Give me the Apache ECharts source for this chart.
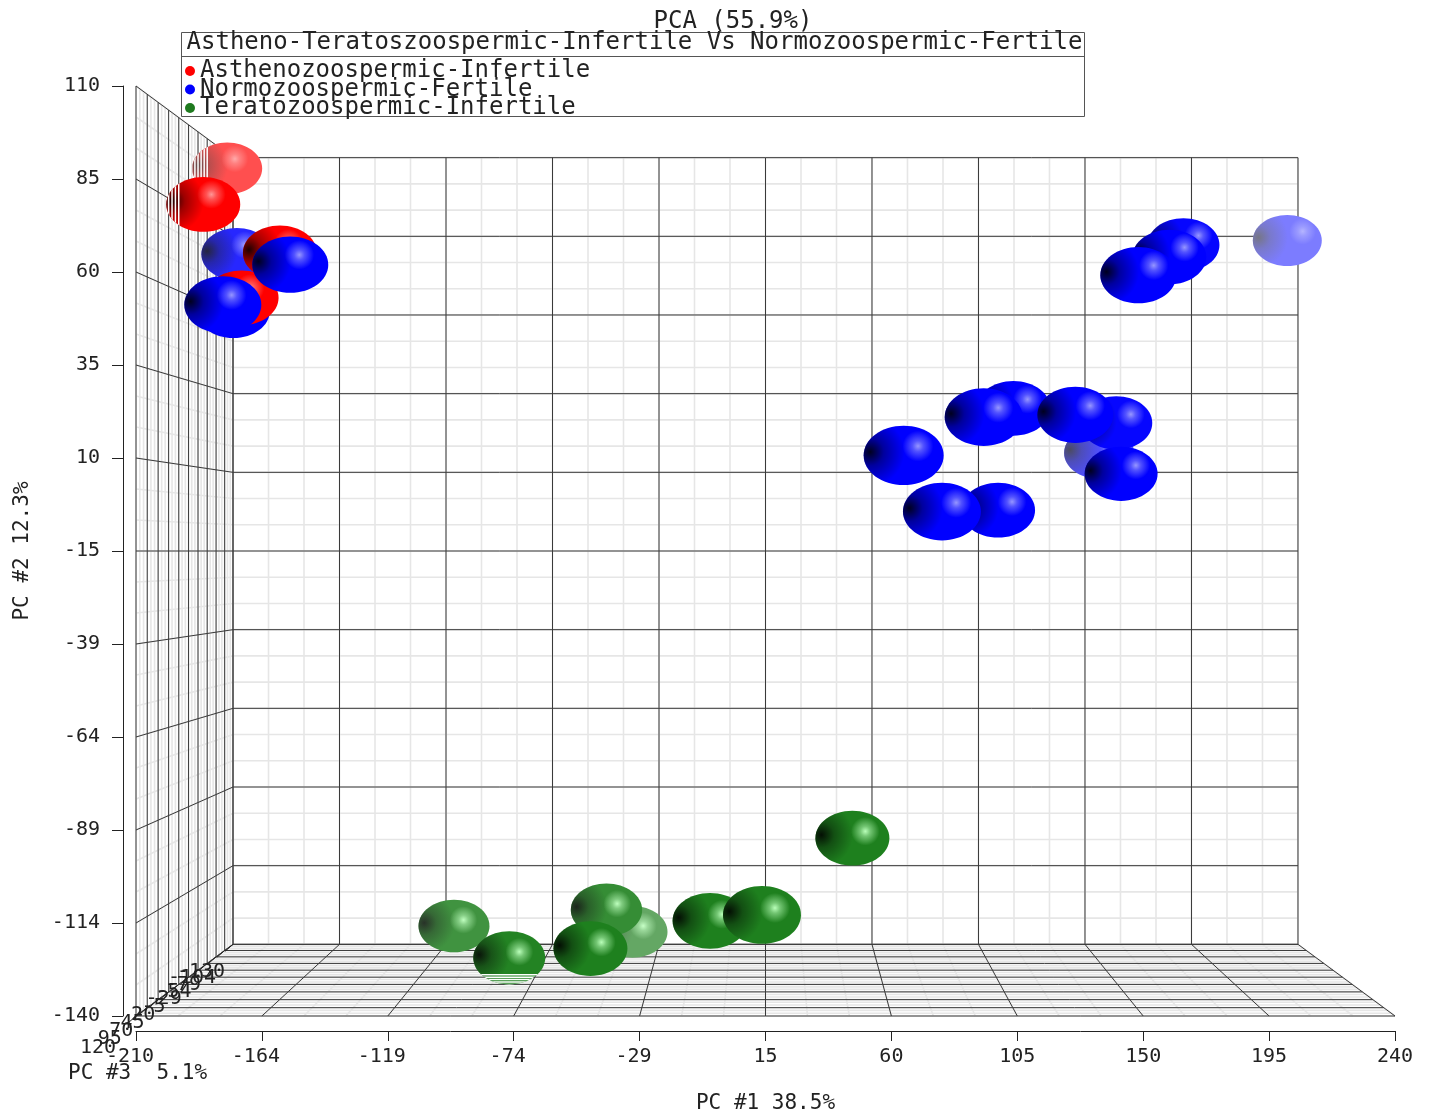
<!DOCTYPE html>
<html>
<head>
<meta charset="utf-8">
<title>PCA</title>
<script src="https://cdn.jsdelivr.net/npm/echarts@6/dist/echarts.min.js"></script>
<style>
html, body { margin: 0; padding: 0; background: #fff; }
#main { width: 1431px; height: 1115px; }
</style>
</head>
<body>
<div id="main"></div>
<script>
// PC scores, one list per axis and group
var asthenoPc1 = [-207.7, -205, -175, -190];
var asthenoPc2 = [104, 87, 72.7, 59.5];
var asthenoPc3 = [-96, -10, -10, -10];

var normoPc1 = [-200.5, -166, -189, -196, 183, 173, 157, 234, 112, 96, 133, 156, 153, 156, 65, 80.5, 106];
var normoPc2 = [76, 67, 54.6, 56.6, 77.5, 71.5, 64, 83, 27, 22.4, 24, 23.7, 15.5, 8, 11, -4, -3];
var normoPc3 = [-73, 30, 49, -30, -51, -10, 30, -119, -10, 67, 30, -51, -96, -30, 103, 67, -10];

var teratoPc1 = [-112, -88, -49.5, -40, -53.5, -6.4, 13.7, 49];
var teratoPc2 = [-130, -138, -124.5, -133.5, -132, -122.4, -116.6, -99.5];
var teratoPc3 = [-73, -51, -65, -96, -10, 10, 67, -10];

// axis ticks
var xTickValues = [-210, -165, -120, -75, -30, 15, 60, 105, 150, 195, 240];
var xTickLabels = ['-210', '-164', '-119', '-74', '-29', '15', '60', '105', '150', '195', '240'];
var yTickValues = [-140, -115, -90, -65, -40, -15, 10, 35, 60, 85, 110];
var yTickLabels = ['-140', '-114', '-89', '-64', '-39', '-15', '10', '35', '60', '85', '110'];
var zTickValues = [120, 95, 70, 45, 20, -5, -30, -55, -80, -105, -130];
var zTickLabels = ['120', '95', '70', '45', '20', '-5', '-29', '-54', '-79', '-104', '-130'];

var FONT = '"DejaVu Sans Mono", monospace';
var X_MIN = -210, X_MAX = 240, Y_MIN = -140, Y_MAX = 110, Z_FRONT = 120, Z_BACK = -130;
var X_MID = 15, Y_MID = -15;
// back plane is 0.8459 of the front plane
var PERSPECTIVE = 1 / 0.8459 - 1;
var SPHERE_RX = 14.47, SPHERE_RY = 8.06;
var PIERCE_MIN = 6;

function depthOf(pc3) {
	return (Z_FRONT - pc3) / (Z_FRONT - Z_BACK);
}
function shrink(pc3) {
	return 1 / (1 + PERSPECTIVE * depthOf(pc3));
}
// 3d to the front plane's data coordinates
function project(pc1, pc2, pc3) {
	var s = shrink(pc3);
	return [X_MID + (pc1 - X_MID) * s, Y_MID + (pc2 - Y_MID) * s];
}
function zip(a, b, c) {
	return a.map(function (v, i) { return [v, b[i], c[i]]; });
}

// walls and floor
function gridSegments(major) {
	var segs = [];
	var cells = major ? 1 : 3;
	function add(p, q) {
		var a = project(p[0], p[1], p[2]), b = project(q[0], q[1], q[2]);
		segs.push([a[0], a[1], b[0], b[1]]);
	}
	for (var i = 0; i <= 10 * cells; i++) {
		var v = X_MIN + 45 / cells * i;
		add([v, Y_MIN, Z_BACK], [v, Y_MAX, Z_BACK]);
		add([v, Y_MIN, Z_BACK], [v, Y_MIN, Z_FRONT]);
		var h = Y_MIN + 25 / cells * i;
		add([X_MIN, h, Z_BACK], [X_MAX, h, Z_BACK]);
		add([X_MIN, h, Z_BACK], [X_MIN, h, Z_FRONT]);
		var d = Z_FRONT - 25 / cells * i;
		add([X_MIN, Y_MIN, d], [X_MIN, Y_MAX, d]);
		add([X_MIN, Y_MIN, d], [X_MAX, Y_MIN, d]);
	}
	return segs;
}

function lineSeries(name, segs, color, width, z2) {
	return {
		name: name,
		type: 'custom',
		silent: true,
		data: segs,
		encode: { x: [0, 2], y: [1, 3] },
		renderItem: function (params, api) {
			var a = api.coord([api.value(0), api.value(1)]);
			var b = api.coord([api.value(2), api.value(3)]);
			return {
				type: 'line',
				z2: z2,
				shape: { x1: a[0], y1: a[1], x2: b[0], y2: b[1] },
				style: { stroke: color, lineWidth: width }
			};
		}
	};
}

function mix(rgb, fog) {
	return 'rgb(' + rgb.map(function (c) {
		return Math.round(c + (255 - c) * fog);
	}).join(',') + ')';
}
function alpha(color, a) {
	return color.replace('rgb', 'rgba').replace(')', ',' + a + ')');
}
function fogOf(pc3) {
	var t = depthOf(pc3) - 0.66;
	return t <= 0 ? 0 : Math.min(0.5, 2.09 * Math.pow(t, 1.2));
}

// white mesh lines where a sphere sticks through the left wall or the floor
function meshStripes(api, pc1, pc2, pc3, shape, order) {
	var out = [];
	var clip = { type: 'ellipse', shape: shape };
	function stripe(x1, y1, x2, y2) {
		out.push({
			type: 'line', z2: order, clipPath: clip,
			shape: { x1: x1, y1: y1, x2: x2, y2: y2 },
			style: { stroke: '#fff', lineWidth: 1.5 }
		});
	}
	var wallOut = X_MIN - (pc1 - SPHERE_RX);
	var floorOut = Y_MIN - (pc2 - SPHERE_RY);
	for (var i = 0; i <= 30; i++) {
		var d = Z_FRONT - 25 / 3 * i;
		if (wallOut > PIERCE_MIN) {
			var left = shape.cx - shape.rx;
			var limit = left + 0.6 * (api.coord(project(X_MIN, pc2, pc3))[0] - left);
			var wx = api.coord(project(X_MIN, Y_MIN, d));
			var wt = api.coord(project(X_MIN, Y_MAX, d));
			if (wx[0] < limit) stripe(wx[0], wx[1], wt[0], wt[1]);
		}
		if (floorOut > PIERCE_MIN / 2 + 1) {
			var bottom = shape.cy + shape.ry;
			var top = bottom - 0.6 * (bottom - api.coord(project(pc1, Y_MIN, pc3))[1]);
			var fa = api.coord(project(X_MIN, Y_MIN, d));
			var fb = api.coord(project(X_MAX, Y_MIN, d));
			if (fa[1] > top) stripe(fa[0], fa[1], fb[0], fb[1]);
		}
	}
	return out;
}

function sphereSeries(name, color, base, light, rows) {
	return {
		name: name,
		type: 'custom',
		silent: true,
		itemStyle: { color: color },
		data: rows,
		encode: { x: 0, y: 1 },
		renderItem: function (params, api) {
			var pc1 = api.value(0), pc2 = api.value(1), pc3 = api.value(2);
			var c = api.coord(project(pc1, pc2, pc3));
			var s = shrink(pc3);
			var rx = api.size([SPHERE_RX * s, 0])[0];
			var ry = api.size([0, SPHERE_RY * s])[1];
			var fog = fogOf(pc3);
			// nearer spheres on top, whichever group they are in
			var order = 2000 + Math.round((1 - depthOf(pc3)) * 1000);
			var shape = { cx: c[0], cy: c[1], rx: rx, ry: ry };
			var dark = mix([0, 0, 0], fog * 0.95);
			var lit = mix(light, fog * 0.6);
			// the highlight drifts with the position on screen
			var hx = 0.5 + (0.325 + pc1 * 0.00051) / 2;
			var hy = 0.5 + (-0.31 - pc2 * 0.0006) / 2;
			var children = [
				{ type: 'ellipse', z2: order, shape: shape, style: { fill: mix(base, fog) } },
				{
					type: 'ellipse', z2: order, shape: shape,
					style: {
						fill: new echarts.graphic.RadialGradient(0.08, 0.44, 0.58, [
							{ offset: 0, color: alpha(dark, 0.88) },
							{ offset: 0.4, color: alpha(dark, 0.38) },
							{ offset: 1, color: alpha(dark, 0) }
						])
					}
				},
				{
					type: 'ellipse', z2: order, shape: shape,
					style: {
						fill: new echarts.graphic.RadialGradient(hx, hy, 0.26, [
							{ offset: 0, color: lit },
							{ offset: 0.35, color: alpha(lit, 0.55) },
							{ offset: 1, color: alpha(lit, 0) }
						])
					}
				}
			];
			return {
				type: 'group',
				children: children.concat(meshStripes(api, pc1, pc2, pc3, shape, order))
			};
		}
	};
}

// depth axis sits on the floor's left edge and its labels pile up
var depthAxisSeries = {
	name: 'depth axis',
	type: 'custom',
	silent: true,
	data: zTickValues.map(function (v, i) { return [v, i]; }),
	encode: { x: 0 },
	renderItem: function (params, api) {
		var v = api.value(0);
		var p = api.coord(project(X_MIN, Y_MIN, v));
		var t = depthOf(v);
		return {
			type: 'group',
			children: [
				{
					type: 'line', z2: 900,
					shape: { x1: p[0], y1: p[1], x2: p[0] - 8, y2: p[1] + 7 },
					style: { stroke: '#222', lineWidth: 1 }
				},
				{
					type: 'text', z2: 901,
					x: p[0] - 38 + 6 * t, y: p[1] + 32 - 5 * t,
					style: {
						text: zTickLabels[api.value(1)],
						fill: '#222', font: '20px ' + FONT,
						align: 'center', verticalAlign: 'middle'
					}
				}
			]
		};
	}
};

var chart = echarts.init(document.getElementById('main'));
chart.setOption({
	animation: false,
	backgroundColor: '#fff',
	title: [
		{
			text: 'PCA (55.9%)', left: 733, top: 22, padding: 0, textAlign: 'center', textVerticalAlign: 'middle',
			textStyle: { fontFamily: FONT, fontSize: 24, fontWeight: 'normal', color: '#222' }
		},
		{
			text: 'Astheno-Teratoszoospermic-Infertile Vs Normozoospermic-Fertile',
			left: 634.5, top: 43, padding: 0, textAlign: 'center', textVerticalAlign: 'middle',
			textStyle: { fontFamily: FONT, fontSize: 24, fontWeight: 'normal', color: '#222' }
		},
		{
			text: 'PC #3  5.1%', left: 68, top: 1074, padding: 0, textVerticalAlign: 'middle',
			textStyle: { fontFamily: FONT, fontSize: 21, fontWeight: 'normal', color: '#222' }
		}
	],
	legend: {
		orient: 'vertical',
		left: 180,
		top: 54,
		itemWidth: 10,
		itemHeight: 10,
		itemGap: -5.5,
		icon: 'circle',
		selectedMode: false,
		data: ['Asthenozoospermic-Infertile', 'Normozoospermic-Fertile', 'Teratozoospermic-Infertile'],
		textStyle: { fontFamily: FONT, fontSize: 24, color: '#222' }
	},
	graphic: [
		{
			type: 'rect', silent: true,
			shape: { x: 181.5, y: 32.5, width: 903, height: 84 },
			style: { fill: 'none', stroke: '#555', lineWidth: 1 }
		},
		{
			type: 'line', silent: true,
			shape: { x1: 181.5, y1: 56.5, x2: 1084.5, y2: 56.5 },
			style: { stroke: '#555', lineWidth: 1 }
		}
	],
	grid: { left: 136, right: 36, top: 86, bottom: 99, outerBoundsMode: 'none' },
	xAxis: {
		type: 'value',
		min: X_MIN,
		max: X_MAX,
		offset: 15,
		name: 'PC #1 38.5%',
		nameLocation: 'middle',
		nameGap: 62,
		nameTextStyle: { fontFamily: FONT, fontSize: 21, color: '#222' },
		axisLine: { show: true, onZero: false, lineStyle: { color: '#222', width: 1 } },
		axisTick: { show: true, length: 10, customValues: xTickValues, lineStyle: { color: '#222' } },
		axisLabel: {
			customValues: xTickValues,
			margin: 16,
			fontFamily: FONT,
			fontSize: 20,
			color: '#222',
			formatter: function (v) {
				var label = xTickLabels[xTickValues.indexOf(v)];
				return label.charAt(0) === '-' ? label + ' ' : label;
			}
		},
		splitLine: { show: false }
	},
	yAxis: {
		type: 'value',
		min: Y_MIN,
		max: Y_MAX,
		offset: 13,
		name: 'PC #2 12.3%',
		nameLocation: 'middle',
		nameGap: 90,
		nameTextStyle: { fontFamily: FONT, fontSize: 21, color: '#222' },
		axisLine: { show: true, onZero: false, lineStyle: { color: '#222', width: 1 } },
		axisTick: { show: true, length: 11, customValues: yTickValues, lineStyle: { color: '#222' } },
		axisLabel: {
			customValues: yTickValues,
			margin: 23,
			fontFamily: FONT,
			fontSize: 20,
			color: '#222',
			formatter: function (v) {
				return yTickLabels[yTickValues.indexOf(v)];
			}
		},
		splitLine: { show: false }
	},
	series: [
		lineSeries('minor grid', gridSegments(false), '#e6e6e6', 1.6, 1),
		lineSeries('major grid', gridSegments(true), '#3a3a3a', 1, 2),
		depthAxisSeries,
		sphereSeries('Asthenozoospermic-Infertile', '#ff0000', [255, 0, 0], [255, 150, 150],
			zip(asthenoPc1, asthenoPc2, asthenoPc3)),
		sphereSeries('Normozoospermic-Fertile', '#0000ff', [0, 0, 255], [150, 150, 255],
			zip(normoPc1, normoPc2, normoPc3)),
		sphereSeries('Teratozoospermic-Infertile', '#1f7a1f', [30, 128, 30], [185, 255, 185],
			zip(teratoPc1, teratoPc2, teratoPc3))
	]
});
</script>
</body>
</html>
